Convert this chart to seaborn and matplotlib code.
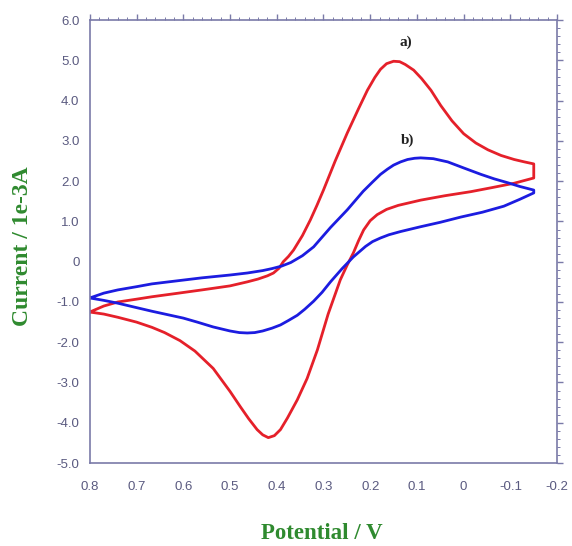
import numpy as np
import seaborn as sns
import matplotlib.pyplot as plt
from matplotlib.ticker import FixedLocator, FixedFormatter, MultipleLocator

# cyclic voltammograms (loop: 0.8 V -> -0.15 V -> 0.8 V), current in 1e-3 A
red_x = [0.80, 0.77, 0.74, 0.70, 0.667, 0.61, 0.56, 0.50, 0.463, 0.44, 0.42, 0.407,
         0.395, 0.386, 0.375, 0.364, 0.345, 0.328, 0.314, 0.30, 0.275, 0.249, 0.225,
         0.206, 0.19, 0.178, 0.165, 0.15, 0.137, 0.125, 0.107, 0.09, 0.07, 0.049,
         0.025, 0.0, -0.026, -0.052, -0.08, -0.108, -0.13, -0.15,
         -0.15, -0.108, -0.06, -0.015, 0.04, 0.092, 0.14, 0.165, 0.185, 0.20, 0.214,
         0.225, 0.236, 0.25, 0.264, 0.29, 0.313, 0.335, 0.356, 0.377, 0.392, 0.405,
         0.418, 0.43, 0.442, 0.46, 0.478, 0.50, 0.536, 0.575, 0.607, 0.64, 0.667,
         0.70, 0.74, 0.77, 0.80]
red_y = [-1.25, -1.10, -1.0, -0.93, -0.87, -0.78, -0.70, -0.60, -0.50, -0.43, -0.35, -0.28,
         -0.16, 0.0, 0.13, 0.29, 0.65, 1.04, 1.4, 1.78, 2.5, 3.2, 3.8,
         4.26, 4.58, 4.78, 4.92, 4.98, 4.97, 4.9, 4.76, 4.55, 4.26, 3.88,
         3.5, 3.18, 2.95, 2.78, 2.64, 2.54, 2.48, 2.43,
         2.08, 1.95, 1.84, 1.74, 1.64, 1.53, 1.4, 1.3, 1.17, 1.02, 0.79,
         0.52, 0.22, -0.1, -0.45, -1.3, -2.19, -2.9, -3.43, -3.88, -4.17, -4.32,
         -4.37, -4.3, -4.17, -3.9, -3.6, -3.22, -2.65, -2.22, -1.96, -1.76, -1.63,
         -1.5, -1.38, -1.3, -1.25]

blue_x = [0.80, 0.77, 0.74, 0.70, 0.667, 0.61, 0.56, 0.50, 0.463, 0.43, 0.41, 0.39,
          0.37, 0.345, 0.321, 0.285, 0.249, 0.215, 0.195, 0.178, 0.163, 0.15, 0.135,
          0.12, 0.105, 0.092, 0.065, 0.034, 0.0, -0.037, -0.065, -0.095, -0.12, -0.15,
          -0.15, -0.12, -0.086, -0.04, 0.006, 0.05, 0.092, 0.135, 0.16, 0.178, 0.195,
          0.21, 0.236, 0.26, 0.285, 0.303, 0.321, 0.34, 0.356, 0.375, 0.392, 0.41,
          0.43, 0.447, 0.463, 0.48, 0.50, 0.536, 0.57, 0.60, 0.667, 0.70, 0.74, 0.77, 0.80]
blue_y = [-0.9, -0.78, -0.7, -0.62, -0.55, -0.47, -0.40, -0.33, -0.28, -0.22, -0.17, -0.11,
          -0.02, 0.15, 0.37, 0.85, 1.29, 1.75, 1.98, 2.17, 2.3, 2.4, 2.48,
          2.54, 2.57, 2.58, 2.56, 2.48, 2.33, 2.17, 2.06, 1.96, 1.87, 1.78,
          1.71, 1.55, 1.38, 1.23, 1.11, 0.98, 0.87, 0.75, 0.67, 0.59, 0.5,
          0.38, 0.12, -0.17, -0.5, -0.76, -0.98, -1.18, -1.33, -1.46, -1.57, -1.65,
          -1.72, -1.76, -1.77, -1.76, -1.72, -1.62, -1.5, -1.4, -1.23, -1.14, -1.03, -0.96, -0.9]

x_ticks = [0.8, 0.7, 0.6, 0.5, 0.4, 0.3, 0.2, 0.1, 0.0, -0.1, -0.2]
x_labels = ["0.8", "0.7", "0.6", "0.5", "0.4", "0.3", "0.2", "0.1", "0", "-0.1", "-0.2"]
y_ticks = [6, 5, 4, 3, 2, 1, 0, -1, -2, -3, -4, -5]
y_labels = ["6.0", "5.0", "4.0", "3.0", "2.0", "1.0", "0", "-1.0", "-2.0", "-3.0", "-4.0", "-5.0"]

sns.set_style("white")
plt.rcParams["font.family"] = ["Liberation Sans", "DejaVu Sans"]

fig = plt.figure(figsize=(5.72, 5.46), dpi=100)
ax = fig.add_axes([0.157, 0.152, 0.817, 0.811])

sns.lineplot(x=red_x, y=red_y, sort=False, estimator=None, color="#e5202a", lw=2.0, ax=ax)
sns.lineplot(x=blue_x, y=blue_y, sort=False, estimator=None, color="#1c1ce0", lw=2.0, ax=ax)

ax.set_xlim(0.8, -0.2)
ax.set_ylim(-5, 6)

frame = "#7a7aa8"
for s in ax.spines.values():
    s.set_visible(True)
    s.set_color(frame)
    s.set_linewidth(1.2)

ax.xaxis.set_major_locator(FixedLocator(x_ticks))
ax.xaxis.set_major_formatter(FixedFormatter(x_labels))
ax.yaxis.set_major_locator(FixedLocator(y_ticks))
ax.yaxis.set_major_formatter(FixedFormatter(y_labels))
ax.xaxis.set_minor_locator(MultipleLocator(0.02))
ax.yaxis.set_minor_locator(MultipleLocator(0.2))
ax.tick_params(which="both", direction="out", color=frame, labelcolor="#5a5a80",
               labelsize=9.5, top=True, right=True)
ax.tick_params(which="major", length=4, width=1)
ax.tick_params(which="minor", length=2.5, width=0.7)
ax.tick_params(axis="x", which="major", pad=9)

lab = dict(family="Liberation Serif", fontweight="bold", color="#2f8a2f")
ax.set_xlabel("Potential / V", fontsize=16.5, **lab)
ax.set_ylabel("Current / 1e-3A", fontsize=17, **lab)
ax.xaxis.set_label_coords(0.497, -0.135)
ax.yaxis.set_label_coords(-0.122, 0.49)

ax.text(0.124, 5.45, "a)", family="Liberation Serif", fontweight="bold", fontsize=11,
        ha="center", va="center", color="#222222")
ax.text(0.12, 3.02, "b)", family="Liberation Serif", fontweight="bold", fontsize=11,
        ha="center", va="center", color="#222222")

fig.savefig("out.png", dpi=100)
